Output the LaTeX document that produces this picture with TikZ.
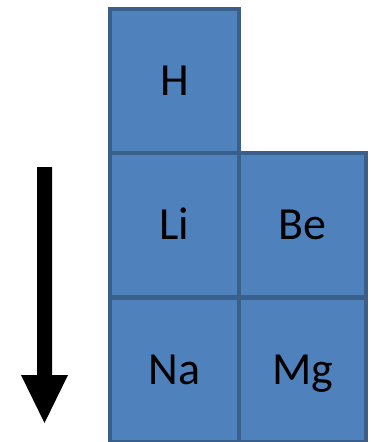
\documentclass[tikz,border=0pt]{standalone}
\usepackage{fontspec}
\setmainfont{Carlito}
\definecolor{cellfill}{HTML}{4F81BD}
\definecolor{celledge}{HTML}{3A5F8B}
\tikzset{
  cell/.style={draw=celledge, fill=cellfill, line width=4pt, minimum width=129pt, minimum height=144pt, inner sep=0pt, font=\fontsize{46}{46}\selectfont, text height=29.6pt, text depth=0pt, anchor=north west},
  cellr/.style={cell, minimum width=127pt}
}
\begin{document}
\begin{tikzpicture}[x=1pt,y=-1pt]
\useasboundingbox (0,0) rectangle (371,442);
\node[cell] (H) at (108,7) {H};
\node[cell] (Li) at (108,151) {Li};
\node[cellr] (Be) at (237,151) {Be};
\node[cell] (Na) at (108,296) {Na};
\node[cellr] (Mg) at (237,296) {Mg};
\fill[black] (37,167) -- (52,167) -- (52,375) -- (68,375) -- (44.5,423) -- (21,375) -- (37,375) -- cycle;
\end{tikzpicture}
\end{document}
